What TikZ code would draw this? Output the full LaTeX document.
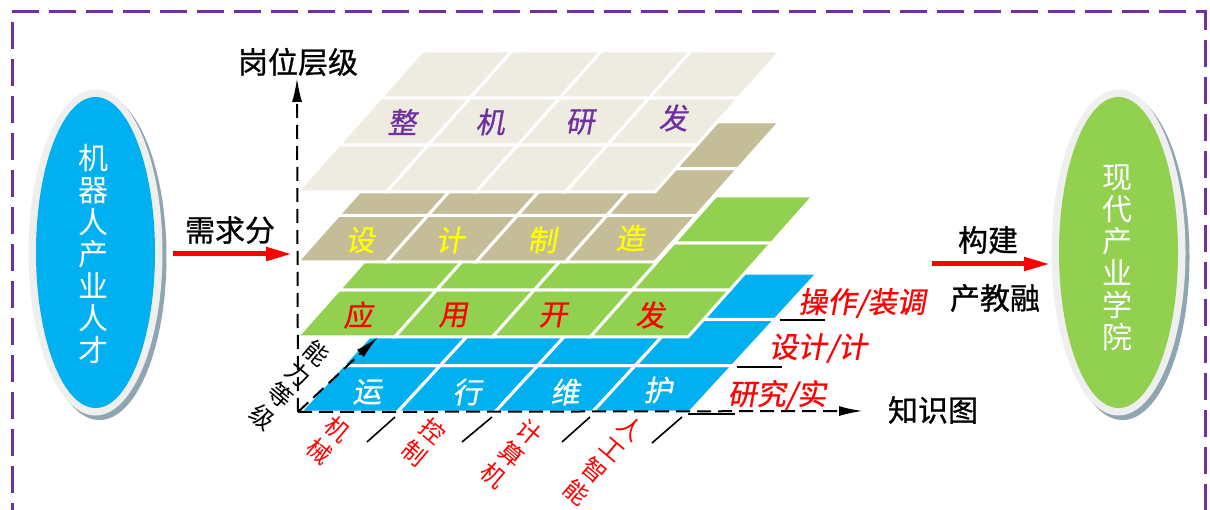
\documentclass[tikz,border=0pt]{standalone}
\usepackage{fontspec}
\newfontfamily\cjk{Noto Sans CJK SC}
\newfontfamily\cjkb[FakeBold=0.8]{Noto Sans CJK SC}
\newfontfamily\cjkit[FakeSlant=0.18,FakeBold=0.8]{Noto Sans CJK SC}
\usetikzlibrary{arrows.meta,shapes.geometric}
\definecolor{bordpurple}{HTML}{7030A0}
\definecolor{lblue}{HTML}{00B0F0}
\definecolor{lgreen}{HTML}{92D050}
\definecolor{ltan}{HTML}{C4BD97}
\definecolor{lbeige}{HTML}{EEECE1}
\definecolor{rimgrey}{HTML}{EFEFEF}
\definecolor{shadegrey}{HTML}{8FA5B0}
\definecolor{txtyellow}{HTML}{FFFF00}
% x0, y0, width, row height, shear, colour
\newcommand{\drawlayer}[6]{%
  \foreach \i in {0,...,3}{\foreach \j in {0,1,2}{%
    \pgfmathsetmacro\bx{#1+\i*#3/4+#5*\j*#4}%
    \pgfmathsetmacro\by{#2-\j*#4}%
    \filldraw[fill=#6, draw=white, line width=3pt, line join=miter]
      (\bx,\by) -- ++(#3/4,0) -- ++(#5*#4,-#4) -- ++(-#3/4,0) -- cycle;
  }}}
\begin{document}
\begin{tikzpicture}[x=1pt,y=-1pt,
  blacklabel/.style={font=\cjkb\fontsize{30}{32}\selectfont, text=black, inner sep=0},
  celltext/.style={font=\cjkit\fontsize{29}{31}\selectfont, inner sep=0},
  ellipsetext/.style={font=\cjk\fontsize{30}{32}\selectfont, text=white, align=center, inner sep=0},
  axisline/.style={line width=2pt, dash pattern=on 14pt off 7pt, -{Latex[length=24pt,width=10pt]}},
  redarrow/.style={draw=red, line width=5pt, -{Triangle[length=26pt,width=13pt]}},
  redlabel/.style={font=\cjkit\fontsize{29}{31}\selectfont, text=red, inner sep=0},
  tickline/.style={line width=1.6pt},
  rotlabel/.style={font=\cjk\fontsize{24}{28}\selectfont, align=center, inner sep=0, rotate=-40},
  bigell/.style={ellipse, minimum width=119pt, minimum height=311pt, inner sep=0}
]
\useasboundingbox (0,0) rectangle (1210,510);
% border
\draw[bordpurple, line width=3pt, dash pattern=on 27pt off 10pt]
  (12,530) -- (12,12) -- (1205,12) -- (1205,530);

% left ellipse
\fill[shadegrey] (99.5,257) ellipse [x radius=67pt, y radius=163pt];
\fill[rimgrey] (95.5,252.5) ellipse [x radius=67pt, y radius=163pt];
\node[bigell, fill=lblue] (talent) at (95.5,252.5) {};
\node[ellipsetext] (talenttxt) at (93,254) {机\\器\\人\\产\\业\\人\\才};

% right ellipse
\fill[shadegrey] (1122.5,257) ellipse [x radius=67pt, y radius=163pt];
\fill[rimgrey] (1118.5,252.5) ellipse [x radius=67pt, y radius=163pt];
\node[bigell, fill=lgreen] (college) at (1118.5,252.5) {};
\node[ellipsetext] (collegetxt) at (1117,258) {现\\代\\产\\业\\学\\院};

% layers (bottom to top)
\drawlayer{300}{412}{390}{46.3}{0.92}{lblue}
\drawlayer{297}{337}{391}{47}{0.89}{lgreen}
\drawlayer{297}{262}{358}{46.7}{0.89}{ltan}
\drawlayer{297}{192}{358}{47}{0.89}{lbeige}

% layer texts
\node[celltext, text=bordpurple] (t11) at (402,122) {整};
\node[celltext, text=bordpurple] (t12) at (490,122) {机};
\node[celltext, text=bordpurple] (t13) at (580,122) {研};
\node[celltext, text=bordpurple] (t14) at (673,118) {发};
\node[celltext, text=txtyellow] (t21) at (360,240) {设};
\node[celltext, text=txtyellow] (t22) at (450,240) {计};
\node[celltext, text=txtyellow] (t23) at (542,240) {制};
\node[celltext, text=txtyellow] (t24) at (630,238) {造};
\node[celltext, text=red] (t31) at (358,315) {应};
\node[celltext, text=red] (t32) at (453,315) {用};
\node[celltext, text=red] (t33) at (553,315) {开};
\node[celltext, text=red] (t34) at (650,315) {发};
\node[celltext, text=white] (t41) at (367,392) {运};
\node[celltext, text=white] (t42) at (467,392) {行};
\node[celltext, text=white] (t43) at (565,392) {维};
\node[celltext, text=white] (t44) at (658,390) {护};

% axes
\coordinate (O) at (298,412);
\coordinate (ytip) at (297,78);
\coordinate (xtip) at (863,411);
\coordinate (ztip) at (378,337);
\node[blacklabel] (ylab) at (298,62) {岗位层级};
\node[blacklabel] (xlab) at (933,410) {知识图};
\draw[axisline] (O) -- (ytip);
\draw[axisline] (O) -- (xtip);
\draw[axisline] (O) -- (ztip);
\node[rotlabel, text=black] (zlab) at (290,385) {能\\力\\等\\级};

% bottom labels and ticks
\node[rotlabel, text=red] (k1) at (329,440) {机\\械};
\node[rotlabel, text=red] (k2) at (424,442) {控\\制};
\node[rotlabel, text=red] (k3) at (512,454) {计\\算\\机};
\node[rotlabel, text=red] (k4) at (604,460) {人\\工\\智\\能};
\coordinate (a1) at (367,442); \coordinate (b1) at (395,417);
\coordinate (a2) at (462,442); \coordinate (b2) at (492,417);
\coordinate (a3) at (562,442); \coordinate (b3) at (590,417);
\coordinate (a4) at (652,443); \coordinate (b4) at (682,417);
\draw[tickline] (a1) -- (b1);
\draw[tickline] (a2) -- (b2);
\draw[tickline] (a3) -- (b3);
\draw[tickline] (a4) -- (b4);

% right level labels and ticks
\coordinate (c1) at (688,414); \coordinate (d1) at (735,414);
\coordinate (c2) at (737,367); \coordinate (d2) at (782,367);
\coordinate (c3) at (780,320); \coordinate (d3) at (825,320);
\draw[line width=2pt] (c1) -- (d1);
\draw[line width=2pt] (c2) -- (d2);
\draw[line width=2pt] (c3) -- (d3);
\node[redlabel] (r1) at (777,395) {研究/实};
\node[redlabel] (r2) at (818,348) {设计/计};
\node[redlabel] (r3) at (862,303) {操作/装调};

% side arrows
\coordinate (la) at (173,254);
\coordinate (lb) at (292,254);
\coordinate (ra) at (932,264);
\coordinate (rb) at (1050,264);
\draw[redarrow] (la) -- (lb);
\draw[redarrow] (ra) -- (rb);
\node[blacklabel] (need) at (230,230) {需求分};
\node[blacklabel] (build) at (988,240) {构建};
\node[blacklabel] (merge) at (995,298) {产教融};
\end{tikzpicture}
\end{document}
